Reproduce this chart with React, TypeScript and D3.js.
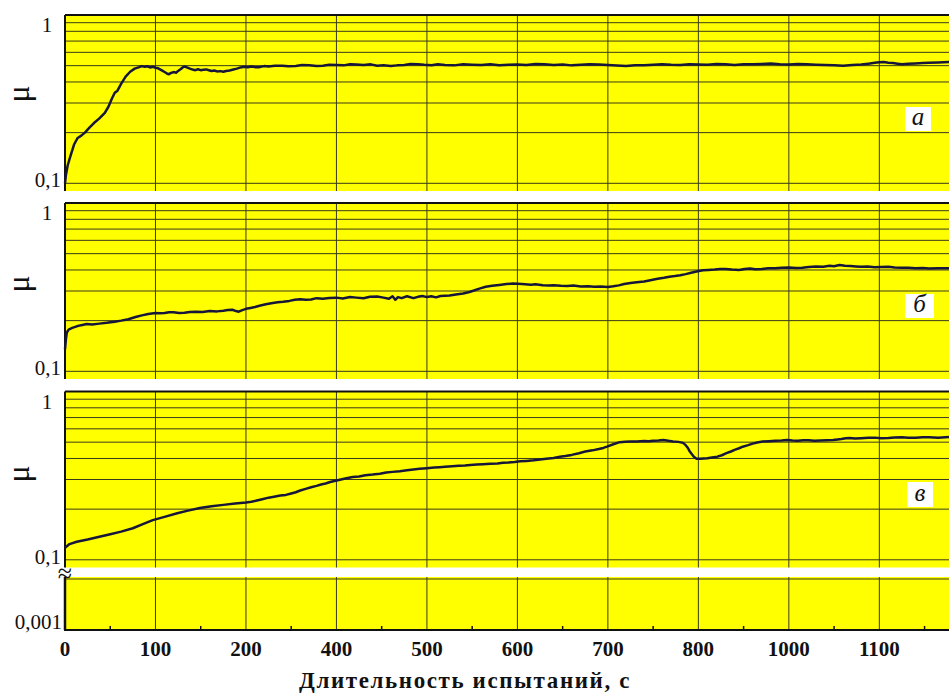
import React from "react";
import * as d3 from "d3";

// x positions are in grid units (gridline i at 100*i); labels as printed in the figure
const xGridValues = [0, 100, 200, 300, 400, 500, 600, 700, 800, 900];
const xTickLabels = ["0", "100", "200", "400", "500", "600", "700", "800", "1000", "1100"];
const yGridValues = [0.1, 0.2, 0.3, 0.4, 0.5, 0.6, 0.7, 0.8, 0.9];
const panelLetters = ["а", "б", "в"];
const xTitle = "Длительность испытаний, с";

const seriesA: [number, number][] = [
  [0, 0.1], [1, 0.112], [3, 0.128], [6, 0.145], [10, 0.17], [14, 0.186], [18, 0.192], [22, 0.2],
  [27, 0.214], [32, 0.228], [38, 0.243], [44, 0.262], [48, 0.285], [52, 0.32], [55, 0.345],
  [58, 0.355], [62, 0.39], [67, 0.43], [72, 0.46], [77, 0.48], [82, 0.49], [85, 0.497], [88, 0.492],
  [91, 0.496], [94, 0.488], [97, 0.493], [100, 0.486], [103, 0.482], [106, 0.472], [109, 0.462],
  [111, 0.455], [113, 0.448], [115, 0.445], [117, 0.452], [120, 0.458], [123, 0.454], [125, 0.465],
  [128, 0.478], [130, 0.488], [132, 0.494], [134, 0.49], [136, 0.485], [138, 0.48], [141, 0.474],
  [144, 0.47], [147, 0.476], [150, 0.47], [153, 0.473], [156, 0.475], [159, 0.47], [162, 0.465],
  [165, 0.468], [168, 0.462], [172, 0.464], [175, 0.46], [178, 0.465], [182, 0.468], [186, 0.474],
  [190, 0.48], [194, 0.488], [198, 0.492], [202, 0.489], [206, 0.494], [210, 0.49], [215, 0.49],
  [220, 0.497], [225, 0.495], [232, 0.499], [240, 0.5], [247, 0.496], [255, 0.498], [262, 0.504],
  [270, 0.503], [278, 0.498], [285, 0.5], [292, 0.506], [300, 0.505], [308, 0.502], [315, 0.51],
  [322, 0.508], [330, 0.505], [338, 0.509], [345, 0.5], [352, 0.503], [360, 0.498], [367, 0.502],
  [375, 0.505], [382, 0.512], [390, 0.51], [397, 0.506], [405, 0.503], [412, 0.509], [420, 0.505],
  [430, 0.502], [440, 0.51], [450, 0.507], [460, 0.505], [470, 0.51], [480, 0.503], [490, 0.506],
  [500, 0.508], [510, 0.504], [520, 0.512], [530, 0.509], [540, 0.505], [550, 0.508], [560, 0.502],
  [570, 0.506], [580, 0.51], [590, 0.508], [600, 0.505], [610, 0.501], [620, 0.498], [630, 0.502],
  [640, 0.503], [650, 0.507], [660, 0.51], [670, 0.506], [680, 0.505], [690, 0.51], [700, 0.508],
  [710, 0.506], [720, 0.512], [730, 0.509], [740, 0.505], [750, 0.509], [760, 0.51], [770, 0.512],
  [780, 0.515], [790, 0.51], [800, 0.508], [810, 0.512], [820, 0.51], [830, 0.507], [840, 0.505],
  [850, 0.503], [860, 0.5], [870, 0.504], [880, 0.508], [888, 0.514], [895, 0.52], [900, 0.524],
  [905, 0.525], [910, 0.521], [915, 0.518], [920, 0.514], [925, 0.51], [932, 0.513], [940, 0.515],
  [948, 0.518], [955, 0.52], [965, 0.522], [977, 0.525],
];

const seriesB: [number, number][] = [
  [0, 0.135], [1, 0.155], [2, 0.17], [4, 0.177], [8, 0.181], [13, 0.185], [18, 0.188], [24, 0.191],
  [30, 0.19], [38, 0.192], [46, 0.194], [55, 0.197], [62, 0.2], [70, 0.204], [78, 0.21], [85, 0.215],
  [92, 0.219], [100, 0.222], [105, 0.221], [110, 0.222], [115, 0.224], [120, 0.224], [126, 0.222],
  [132, 0.223], [138, 0.225], [145, 0.226], [152, 0.225], [160, 0.228], [168, 0.227], [175, 0.229],
  [180, 0.231], [185, 0.232], [189, 0.228], [192, 0.226], [196, 0.231], [200, 0.235], [205, 0.238],
  [210, 0.241], [216, 0.246], [222, 0.25], [228, 0.254], [235, 0.257], [241, 0.259], [248, 0.262],
  [254, 0.266], [260, 0.268], [266, 0.266], [272, 0.267], [278, 0.272], [285, 0.27], [292, 0.273],
  [300, 0.274], [307, 0.271], [315, 0.276], [322, 0.274], [330, 0.272], [337, 0.277], [345, 0.278],
  [352, 0.274], [358, 0.27], [362, 0.279], [365, 0.266], [368, 0.276], [372, 0.272], [378, 0.279],
  [385, 0.272], [390, 0.277], [395, 0.28], [400, 0.276], [405, 0.279], [410, 0.275], [415, 0.28],
  [425, 0.282], [432, 0.286], [440, 0.29], [447, 0.296], [452, 0.302], [458, 0.31], [465, 0.318],
  [472, 0.322], [480, 0.326], [488, 0.33], [495, 0.332], [505, 0.33], [515, 0.327], [520, 0.329],
  [528, 0.325], [535, 0.323], [540, 0.325], [548, 0.322], [555, 0.321], [562, 0.323], [570, 0.319],
  [578, 0.32], [585, 0.318], [592, 0.319], [600, 0.317], [606, 0.32], [612, 0.324], [618, 0.33],
  [625, 0.335], [632, 0.338], [640, 0.342], [647, 0.348], [655, 0.355], [662, 0.36], [668, 0.365],
  [674, 0.368], [680, 0.372], [686, 0.378], [692, 0.385], [698, 0.392], [705, 0.398], [711, 0.4],
  [718, 0.402], [724, 0.405], [730, 0.405], [737, 0.402], [745, 0.4], [751, 0.405], [757, 0.408],
  [763, 0.404], [770, 0.405], [777, 0.409], [785, 0.41], [792, 0.412], [800, 0.414], [808, 0.411],
  [815, 0.412], [822, 0.417], [830, 0.42], [838, 0.418], [845, 0.424], [850, 0.421], [856, 0.428],
  [862, 0.424], [868, 0.422], [874, 0.42], [880, 0.418], [887, 0.42], [895, 0.415], [902, 0.416],
  [910, 0.418], [917, 0.414], [925, 0.412], [932, 0.413], [940, 0.41], [948, 0.411], [955, 0.408],
  [965, 0.41], [977, 0.41],
];

const seriesC: [number, number][] = [
  [0, 0.118], [5, 0.124], [13, 0.128], [25, 0.132], [38, 0.137], [50, 0.142], [62, 0.147], [75, 0.154],
  [86, 0.163], [97, 0.172], [110, 0.18], [124, 0.189], [136, 0.196], [149, 0.203], [162, 0.208],
  [175, 0.212], [188, 0.216], [200, 0.219], [206, 0.221], [212, 0.225], [218, 0.229], [225, 0.234],
  [231, 0.237], [238, 0.241], [244, 0.243], [249, 0.247], [255, 0.252], [260, 0.258], [266, 0.264],
  [272, 0.27], [278, 0.275], [283, 0.28], [288, 0.284], [293, 0.29], [299, 0.295], [305, 0.3],
  [311, 0.305], [318, 0.31], [325, 0.313], [332, 0.318], [340, 0.321], [348, 0.325], [355, 0.33],
  [362, 0.333], [370, 0.336], [378, 0.34], [385, 0.344], [392, 0.347], [400, 0.35], [408, 0.353],
  [414, 0.355], [420, 0.357], [428, 0.36], [435, 0.362], [442, 0.363], [448, 0.366], [455, 0.368],
  [462, 0.37], [470, 0.372], [478, 0.374], [484, 0.377], [490, 0.378], [497, 0.381], [503, 0.385],
  [510, 0.387], [518, 0.39], [525, 0.394], [532, 0.398], [540, 0.403], [547, 0.41], [553, 0.414],
  [560, 0.42], [568, 0.43], [575, 0.44], [583, 0.447], [590, 0.455], [595, 0.462], [599, 0.47],
  [606, 0.486], [613, 0.5], [619, 0.503], [625, 0.505], [632, 0.504], [640, 0.508], [645, 0.507],
  [650, 0.51], [656, 0.512], [661, 0.515], [667, 0.509], [672, 0.505], [678, 0.502], [683, 0.495],
  [686, 0.48], [688, 0.465], [690, 0.445], [692, 0.43], [695, 0.41], [698, 0.398], [702, 0.398],
  [706, 0.4], [710, 0.401], [715, 0.405], [721, 0.41], [726, 0.418], [731, 0.43], [736, 0.44],
  [740, 0.45], [745, 0.46], [749, 0.47], [755, 0.48], [760, 0.49], [765, 0.498], [771, 0.504],
  [778, 0.507], [785, 0.51], [792, 0.512], [798, 0.515], [804, 0.511], [810, 0.51], [816, 0.513],
  [822, 0.514], [828, 0.51], [835, 0.512], [842, 0.514], [849, 0.515], [854, 0.519], [858, 0.522],
  [863, 0.527], [867, 0.53], [873, 0.526], [880, 0.528], [888, 0.531], [895, 0.532], [902, 0.528],
  [910, 0.53], [917, 0.533], [925, 0.534], [932, 0.531], [940, 0.532], [948, 0.534], [955, 0.535],
  [965, 0.532], [977, 0.536],
];

const allSeries = [seriesA, seriesB, seriesC];

const W = 949;
const H = 693;
const LEFT = 65;
const panelTops = [15, 203, 391.5];
const panelH = 176;
const lowTop = 577;
const lowBottom = 630;
const YELLOW = "#ffff00";
const GRID = "#3a3a1a";
const LINE = "#16163a";
const SERIF = '"Liberation Serif", "Times New Roman", "DejaVu Serif", serif';

const labelBoxes = [
  { x: 905, y: 107, w: 26, h: 24 },
  { x: 905, y: 294, w: 29, h: 24 },
  { x: 907, y: 482, w: 26, h: 25 },
];
const muPos = [94, 284, 474];

const T = (size: number, extra: React.CSSProperties = {}): React.CSSProperties => ({
  fontFamily: SERIF,
  fontSize: size,
  fill: "#111",
  ...extra,
});

export default function App() {
  const x = d3.scaleLinear().domain([0, 977]).range([LEFT, W]);
  const halfTicks = d3.range(50, 977, 100);

  return (
    <svg width={W} height={H} style={{ position: "absolute", left: 0, top: 0, background: "#fff", fontFamily: SERIF }}>
      {panelTops.map((top, i) => {
        const bottom = top + panelH;
        const y = d3.scaleLog().domain([0.09, 1]).range([bottom, top]);
        const line = d3
          .line<[number, number]>()
          .x((d) => x(d[0]))
          .y((d) => y(d[1]))
          .curve(d3.curveLinear);
        const b = labelBoxes[i];
        return (
          <g key={i}>
            <rect x={LEFT} y={top} width={W - LEFT} height={panelH} fill={YELLOW} />
            {yGridValues.map((v) => (
              <line key={v} x1={LEFT} x2={W} y1={y(v)} y2={y(v)} stroke={GRID} strokeWidth={1} />
            ))}
            {xGridValues.slice(1).map((v) => (
              <line key={v} x1={x(v)} x2={x(v)} y1={top} y2={bottom} stroke={GRID} strokeWidth={1} />
            ))}
            <line x1={LEFT} x2={W} y1={y(1)} y2={y(1)} stroke="#111" strokeWidth={2} />
            <line x1={LEFT} x2={LEFT} y1={top} y2={bottom} stroke="#111" strokeWidth={2} />
            <path d={line(allSeries[i]) || ""} fill="none" stroke={LINE} strokeWidth={2.5} strokeLinejoin="round" />
            <rect x={b.x} y={b.y} width={b.w} height={b.h} fill="#fff" />
            <text x={b.x + b.w / 2} y={b.y + b.h / 2 + 6} textAnchor="middle" style={T(25, { fontStyle: "italic" })}>
              {panelLetters[i]}
            </text>
            <text x={47} y={y(1) + 17} textAnchor="middle" style={T(21)}>
              1
            </text>
            <text x={61} y={y(0.1) + 4} textAnchor="end" style={T(21)}>
              0,1
            </text>
            <text
              transform={`translate(${18},${muPos[i]}) rotate(-90)`}
              textAnchor="middle"
              dominantBaseline="central"
              style={T(32)}
            >
              μ
            </text>
          </g>
        );
      })}

      {/* lower broken-axis strip */}
      <rect x={LEFT} y={lowTop} width={W - LEFT} height={lowBottom - lowTop} fill={YELLOW} />
      <line x1={LEFT} x2={W} y1={579} y2={579} stroke={GRID} strokeWidth={1.2} />
      {xGridValues.slice(1).map((v) => (
        <line key={v} x1={x(v)} x2={x(v)} y1={lowTop} y2={lowBottom} stroke={GRID} strokeWidth={1} />
      ))}
      {halfTicks.map((v) => (
        <line key={v} x1={x(v)} x2={x(v)} y1={lowBottom - 4} y2={lowBottom} stroke="#111" strokeWidth={1.5} />
      ))}
      <line x1={LEFT} x2={LEFT} y1={lowTop} y2={lowBottom} stroke="#111" strokeWidth={2.5} />
      <line x1={LEFT - 1} x2={W} y1={lowBottom} y2={lowBottom} stroke="#111" strokeWidth={2} />
      <text x={LEFT} y={582} textAnchor="middle" style={T(26)}>
        ≈
      </text>
      <text x={62} y={629} textAnchor="end" style={T(21)}>
        0,001
      </text>

      {xGridValues.map((v, i) => (
        <text key={v} x={x(v)} y={656} textAnchor="middle" style={T(21, { fontWeight: 600 })}>
          {xTickLabels[i]}
        </text>
      ))}
      <text x={465} y={688} textAnchor="middle" style={T(23, { fontWeight: "bold", letterSpacing: "1.6px" })}>
        {xTitle}
      </text>
    </svg>
  );
}
